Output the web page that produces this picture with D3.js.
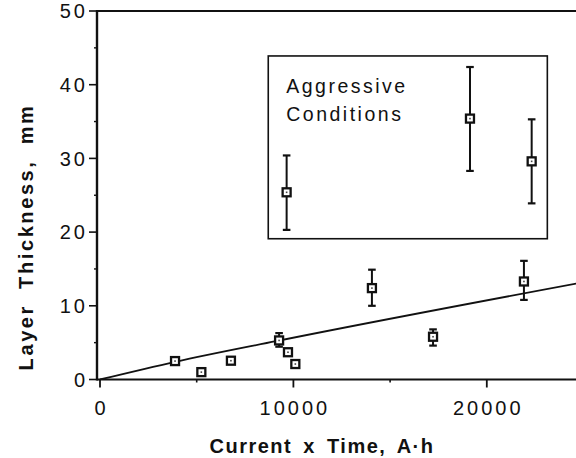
<!DOCTYPE html>
<html>
<head>
<meta charset="utf-8">
<script src="https://cdn.jsdelivr.net/npm/d3@7"></script>
<style>
  body { margin: 0; background: #fff; }
  svg { display: block; font-family: "Liberation Sans", Arial, Helvetica, sans-serif; }
  .tick-label { font-size: 20px; letter-spacing: 3px; fill: #111; }
  .axis-title { font-size: 20px; font-weight: bold; letter-spacing: 1.5px; word-spacing: 4px; fill: #111; }
  .y-title { letter-spacing: 2.6px; word-spacing: 7px; }
  .note { font-size: 19.5px; letter-spacing: 2.5px; fill: #111; }
</style>
</head>
<body>
<div id="chart"></div>
<script>
// normal conditions: [A·h, mm], error bars as [low, high] (null = none)
const normalX = [3880, 5240, 6770, 9260, 9720, 10100, 14060, 17220, 21920];
const normalY = [2.5, 1.0, 2.55, 5.3, 3.7, 2.1, 12.4, 5.8, 13.3];
const normalErr = [null, null, null, [4.45, 6.3], null, null, [10.0, 14.9], [4.6, 6.8], [10.8, 16.1]];

// aggressive conditions
const aggrX = [9650, 19130, 22320];
const aggrY = [25.4, 35.4, 29.6];
const aggrErr = [[20.3, 30.4], [28.3, 42.4], [23.9, 35.3]];

// fitted line
const fitX = [0, 3900, 9100, 25000];
const fitY = [0, 2.4, 5.2, 13.2];

// inset box, in data units
const boxX = [8700, 23130];
const boxY = [19.1, 43.9];
const noteLines = ['Aggressive', 'Conditions'];

const xTicks = [0, 10000, 20000];
const xMinor = [5000, 15000];
const yTicks = [0, 10, 20, 30, 40, 50];
const yMinor = [5, 15, 25, 35, 45];

const width = 576;
const height = 458;

const scaleX = d3.scaleLinear().domain([0, 25000]).range([100, 583.5]);
const scaleY = d3.scaleLinear().domain([0, 50]).range([379.5, 11]);
const axisLeftX = 97;

const $svg = d3.select('#chart').append('svg')
  .attr('width', width)
  .attr('height', height);

// frame: left axis, bottom axis, top line
$svg.append('line')
  .attr('x1', axisLeftX).attr('x2', axisLeftX)
  .attr('y1', scaleY(50) - 1).attr('y2', scaleY(0) + 1)
  .attr('stroke', '#111').attr('stroke-width', 2.4);
$svg.append('line')
  .attr('x1', axisLeftX).attr('x2', width)
  .attr('y1', scaleY(0)).attr('y2', scaleY(0))
  .attr('stroke', '#111').attr('stroke-width', 2.2);
$svg.append('line')
  .attr('x1', axisLeftX).attr('x2', width)
  .attr('y1', scaleY(50)).attr('y2', scaleY(50))
  .attr('stroke', '#111').attr('stroke-width', 1.8);

// y ticks
const $yAxis = $svg.append('g').attr('class', 'y-axis');
$yAxis.selectAll('.major').data(yTicks).enter().append('line')
  .attr('class', 'major')
  .attr('x1', axisLeftX - 8).attr('x2', axisLeftX)
  .attr('y1', d => scaleY(d)).attr('y2', d => scaleY(d))
  .attr('stroke', '#111').attr('stroke-width', 1.6);
$yAxis.selectAll('.minor').data(yMinor).enter().append('line')
  .attr('class', 'minor')
  .attr('x1', axisLeftX - 3).attr('x2', axisLeftX)
  .attr('y1', d => scaleY(d)).attr('y2', d => scaleY(d))
  .attr('stroke', '#111').attr('stroke-width', 1.4);
$yAxis.selectAll('text').data(yTicks).enter().append('text')
  .attr('class', 'tick-label')
  .attr('x', 88)
  .attr('y', d => scaleY(d))
  .attr('dy', '0.36em')
  .attr('text-anchor', 'end')
  .text(d => d);

// x ticks
const $xAxis = $svg.append('g').attr('class', 'x-axis');
$xAxis.selectAll('.major').data(xTicks).enter().append('line')
  .attr('class', 'major')
  .attr('x1', d => scaleX(d)).attr('x2', d => scaleX(d))
  .attr('y1', scaleY(0)).attr('y2', scaleY(0) + 8)
  .attr('stroke', '#111').attr('stroke-width', 1.8);
$xAxis.selectAll('.minor').data(xMinor).enter().append('line')
  .attr('class', 'minor')
  .attr('x1', d => scaleX(d)).attr('x2', d => scaleX(d))
  .attr('y1', scaleY(0)).attr('y2', scaleY(0) + 3)
  .attr('stroke', '#111').attr('stroke-width', 1.6);
$xAxis.selectAll('text').data(xTicks).enter().append('text')
  .attr('class', 'tick-label')
  .attr('x', d => scaleX(d) + 1.5)
  .attr('y', 415)
  .attr('text-anchor', 'middle')
  .text(d => d);

// axis titles
$svg.append('text')
  .attr('class', 'axis-title')
  .attr('x', 322)
  .attr('y', 453)
  .attr('text-anchor', 'middle')
  .text('Current x Time, A\u00b7h');

$svg.append('text')
  .attr('class', 'axis-title y-title')
  .attr('transform', 'translate(33, 237) rotate(-90)')
  .attr('text-anchor', 'middle')
  .text('Layer Thickness, mm');

// inset box + note
$svg.append('rect')
  .attr('x', scaleX(boxX[0]))
  .attr('y', scaleY(boxY[1]))
  .attr('width', scaleX(boxX[1]) - scaleX(boxX[0]))
  .attr('height', scaleY(boxY[0]) - scaleY(boxY[1]))
  .attr('fill', 'none')
  .attr('stroke', '#111')
  .attr('stroke-width', 1.6);

$svg.append('g').selectAll('text').data(noteLines).enter().append('text')
  .attr('class', 'note')
  .attr('x', scaleX(boxX[0]) + 18)
  .attr('y', (d, i) => scaleY(boxY[1]) + 37 + i * 28)
  .text(d => d);

// fitted line
const line = d3.line()
  .x(d => scaleX(d[0]))
  .y(d => scaleY(d[1]))
  .curve(d3.curveMonotoneX);
$svg.append('path')
  .datum(d3.zip(fitX, fitY))
  .attr('d', line)
  .attr('fill', 'none')
  .attr('stroke', '#111')
  .attr('stroke-width', 1.8);

// points with error bars
function drawPoints(xs, ys, errs, cls) {
  const pts = xs.map((x, i) => ({ x, y: ys[i], err: errs[i] }));
  const $g = $svg.append('g').attr('class', cls);
  const withErr = pts.filter(d => d.err);
  const cap = 3.8;
  const half = 4;

  $g.selectAll('.bar').data(withErr).enter().append('line')
    .attr('class', 'bar')
    .attr('x1', d => scaleX(d.x)).attr('x2', d => scaleX(d.x))
    .attr('y1', d => scaleY(d.err[0])).attr('y2', d => scaleY(d.err[1]))
    .attr('stroke', '#111').attr('stroke-width', 2);
  $g.selectAll('.cap-lo').data(withErr).enter().append('line')
    .attr('class', 'cap-lo')
    .attr('x1', d => scaleX(d.x) - cap).attr('x2', d => scaleX(d.x) + cap)
    .attr('y1', d => scaleY(d.err[0])).attr('y2', d => scaleY(d.err[0]))
    .attr('stroke', '#111').attr('stroke-width', 2.2);
  $g.selectAll('.cap-hi').data(withErr).enter().append('line')
    .attr('class', 'cap-hi')
    .attr('x1', d => scaleX(d.x) - cap).attr('x2', d => scaleX(d.x) + cap)
    .attr('y1', d => scaleY(d.err[1])).attr('y2', d => scaleY(d.err[1]))
    .attr('stroke', '#111').attr('stroke-width', 2.2);

  $g.selectAll('.box').data(pts).enter().append('rect')
    .attr('class', 'box')
    .attr('x', d => scaleX(d.x) - half)
    .attr('y', d => scaleY(d.y) - half)
    .attr('width', half * 2).attr('height', half * 2)
    .attr('fill', '#fff')
    .attr('stroke', '#111')
    .attr('stroke-width', 2.3);
  $g.selectAll('.dot').data(pts).enter().append('rect')
    .attr('class', 'dot')
    .attr('x', d => scaleX(d.x) - 0.8)
    .attr('y', d => scaleY(d.y) - 0.8)
    .attr('width', 1.6).attr('height', 1.6)
    .attr('fill', '#444');
}

drawPoints(normalX, normalY, normalErr, 'normal');
drawPoints(aggrX, aggrY, aggrErr, 'aggressive');
</script>
</body>
</html>
